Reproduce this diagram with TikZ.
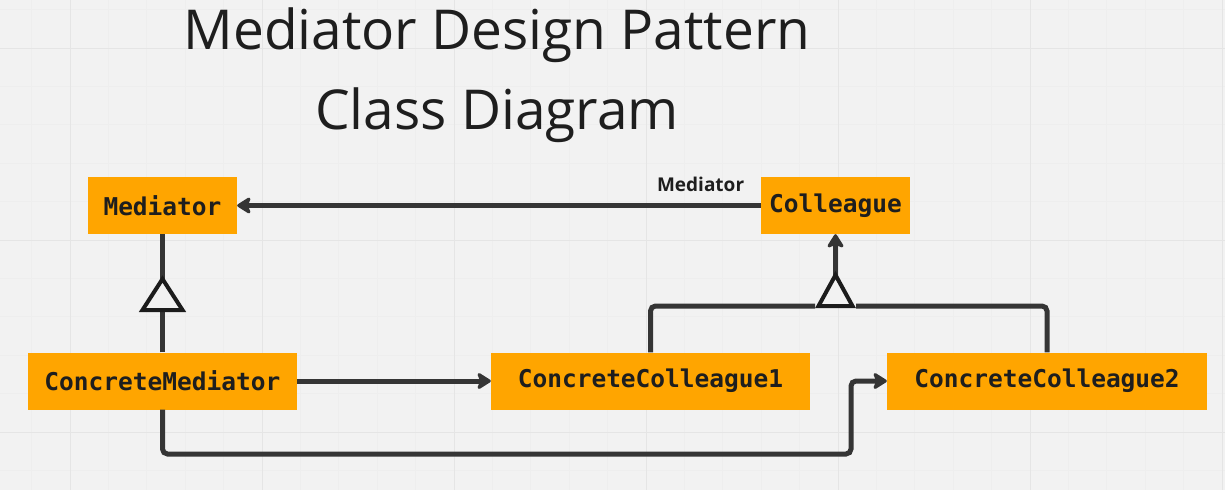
\documentclass[tikz,border=0pt]{standalone}
\usepackage{fontspec}
\usetikzlibrary{arrows.meta}
\newfontfamily\titlefont{Open Sans}
\newfontfamily\classfont{DejaVu Sans Mono}
\newfontfamily\rolefont{Open Sans}

\begin{document}
\begin{tikzpicture}[x=1pt, y=-1pt,
    classbox/.style={fill=boxOrange, minimum height=\boxHeight, inner sep=0pt, text=textDark,
        font=\classfont\bfseries\fontsize{24.5}{28}\selectfont},
    titleText/.style={text=textDark, inner sep=0pt, font=\titlefont\fontsize{55}{66}\selectfont},
    roleText/.style={text=textDark, font=\rolefont\bfseries\fontsize{19}{23}\selectfont},
    link/.style={draw=lineGray, line width=5pt},
    headed/.style={-{Stealth[length=16pt, width=20pt, inset=4pt, round]}},
    hollowTri/.style={draw=triBlack, fill=bgGray, line width=4pt},
    minorGrid/.style={draw=minorLine, line width=0.8pt},
    majorGrid/.style={draw=majorLine, line width=1pt}]
    \def\boxHeight{57pt}

    \definecolor{bgGray}{HTML}{F2F2F2}
    \definecolor{minorLine}{HTML}{EEEEEE}
    \definecolor{majorLine}{HTML}{E5E5E5}
    \definecolor{boxOrange}{HTML}{FFA500}
    \definecolor{lineGray}{HTML}{353535}
    \definecolor{triBlack}{HTML}{1C1C1C}
    \definecolor{textDark}{HTML}{1E1E1E}

    % Draw background grid
    \fill[bgGray] (0,0) rectangle (1225,490);
    \useasboundingbox (0,0) rectangle (1225,490);
    \foreach \i in {-1,...,30}
        \draw[minorGrid] ({70+38.4*\i},0) -- ({70+38.4*\i},490);
    \foreach \j in {-1,...,11}
        \draw[minorGrid] (0,{48+38.4*\j}) -- (1225,{48+38.4*\j});
    \foreach \i in {0,...,6}
        \draw[majorGrid] ({70+192*\i},0) -- ({70+192*\i},490);
    \foreach \j in {0,...,2}
        \draw[majorGrid] (0,{48+192*\j}) -- (1225,{48+192*\j});

    % Title
    \node[titleText, anchor=base] (titleTop) at (497,49) {Mediator Design Pattern};
    \node[titleText, anchor=base] (titleBottom) at (497,129) {Class Diagram};

    % Classes
    \node[classbox, minimum width=149pt] (mediator) at (162.5,205.5) {Mediator};
    \node[classbox, minimum width=149pt] (colleague) at (835.5,205.5) {Colleague};
    \node[classbox, minimum width=269pt] (concreteMediator) at (162.5,381) {ConcreteMediator};
    \node[classbox, minimum width=319pt] (concreteColleagueA) at (650.5,381) {ConcreteColleague1};
    \node[classbox, minimum width=320pt] (concreteColleagueB) at (1047,381) {ConcreteColleague2};

    % Colleague holds its mediator
    \draw[link, headed] (colleague) -- node[pos=0.115, above=8pt, roleText] (roleLabel) {Mediator} (mediator);

    % Mediator side of the hierarchy
    \coordinate (medTip) at (162.5,279);
    \coordinate (medBase) at (162.5,310);
    \draw[link] (mediator) -- (medTip);
    \draw[link] (concreteMediator) -- (medBase);
    \draw[hollowTri] (medTip) -- ++(-20,31) -- ++(40,0) -- cycle;

    % Colleague side of the hierarchy
    \coordinate (colTip) at (835.5,275);
    \coordinate (colBase) at (835.5,306);
    \coordinate (barLeft) at (815,306);
    \coordinate (barRight) at (856,306);
    \draw[link, rounded corners=5pt] (concreteColleagueA.north) |- (barLeft);
    \draw[link, rounded corners=5pt] (concreteColleagueB.north) |- (barRight);
    \draw[link, headed] (colBase) -- (colleague);
    \draw[hollowTri] (colTip) -- ++(-17,31) -- ++(34,0) -- cycle;

    % Concrete mediator talks to both colleagues
    \coordinate (routeCorner) at (851,454);
    \draw[link, headed] (concreteMediator) -- (concreteColleagueA);
    \draw[link, headed, rounded corners=5pt] (concreteMediator.south) |- (routeCorner) |- (concreteColleagueB.west);

\end{tikzpicture}
\end{document}
